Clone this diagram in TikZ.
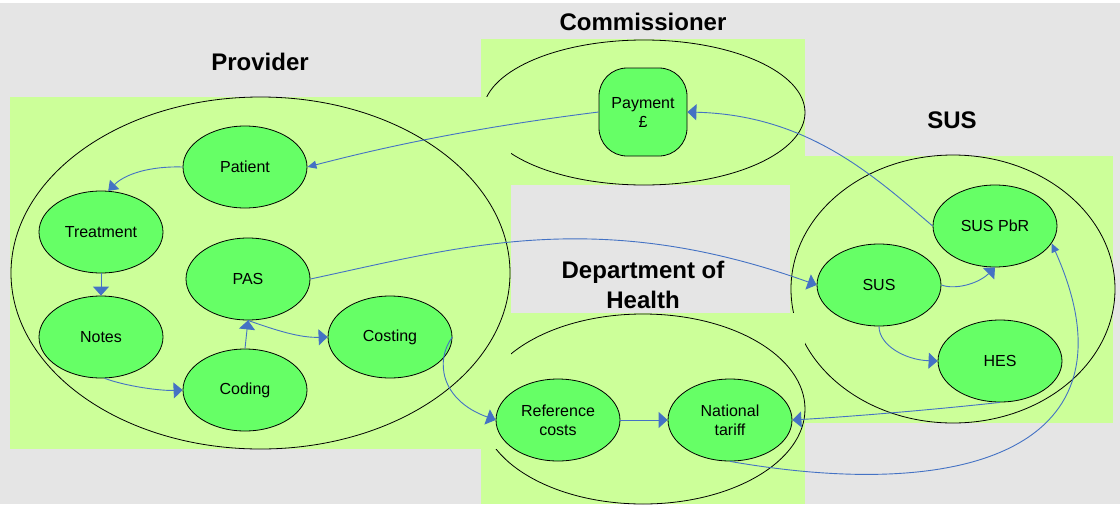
\documentclass[tikz,border=0pt]{standalone}
\usepackage{fontspec}
\setmainfont{Liberation Sans}
\usetikzlibrary{shapes.geometric,arrows.meta}
\definecolor{bgGrey}{HTML}{E5E5E5}
\definecolor{paleGreen}{HTML}{CCFF99}
\definecolor{nodeGreen}{HTML}{66FF66}
\definecolor{arrowBlue}{RGB}{68,114,196}
\tikzset{
  region/.style={fill=paleGreen, draw=none},
  outer/.style={ellipse, draw=black, line width=0.8pt, fill=paleGreen, inner sep=0pt},
  item/.style={ellipse, draw=black, line width=0.8pt, fill=nodeGreen, inner sep=0pt,
    minimum width=124pt, minimum height=82pt, align=center, font=\fontsize{16}{19}\selectfont},
  grouptitle/.style={font=\bfseries\fontsize{24}{30}\selectfont, align=center},
  flow/.style={draw=arrowBlue, line width=0.9pt, -{Triangle[length=9pt,width=16pt]}},
  midflow/.style={draw=arrowBlue, line width=0.9pt, -{Triangle[length=9pt,width=13pt]}},
  thinflow/.style={draw=arrowBlue, line width=0.9pt, -{Triangle[length=9pt,width=8pt]}}
}
\begin{document}
\begin{tikzpicture}[x=1pt,y=1pt]
\useasboundingbox (0,0) rectangle (1120,-504);
\fill[white] (0,0) rectangle (1120,-504);
\fill[bgGrey] (0,-3) rectangle (1120,-504);

% SUS region
\fill[region] (790,-156) rectangle (1113,-423);
\node[outer, minimum width=324pt, minimum height=268pt] (susOuter) at (953,-289) {};
% Commissioner region
\fill[region] (481,-39) rectangle (805,-185);
\node[outer, minimum width=322pt, minimum height=145pt] (comOuter) at (644,-112.5) {};
% Department of Health region
\fill[region] (481,-313) rectangle (805,-504);
\node[outer, minimum width=324pt, minimum height=190pt] (dohOuter) at (643,-409) {};
% Provider region
\fill[region] (10,-97) rectangle (511,-449);
\node[outer, minimum width=499pt, minimum height=352pt] (provOuter) at (260.5,-273) {};

% titles
\node[grouptitle] (tProv) at (260,-62) {Provider};
\node[grouptitle] (tCom) at (643,-22) {Commissioner};
\node[grouptitle] (tSUS) at (952,-120) {SUS};
\node[grouptitle] (tDoH) at (643,-285) {Department of\\Health};

% provider nodes
\node[item] (patient) at (245,-167) {Patient};
\node[item] (treatment) at (101,-232) {Treatment};
\node[item] (pas) at (248,-279) {PAS};
\node[item] (notes) at (101,-337) {Notes};
\node[item] (coding) at (245,-390) {Coding};
\node[item] (costing) at (390,-337) {Costing};

% commissioner
\node[draw=black, line width=0.8pt, fill=nodeGreen, rounded corners=28pt,
  minimum width=88pt, minimum height=88pt, inner sep=0pt, align=center,
  font=\fontsize{16}{19}\selectfont] (payment) at (643,-112) {Payment\\£};

% SUS nodes
\node[item] (suspbr) at (995,-226) {SUS PbR};
\node[item] (sus) at (879,-285) {SUS};
\node[item] (hes) at (1000,-361) {HES};

% DoH nodes
\node[item] (refcosts) at (558,-420) {Reference\\costs};
\node[item] (tariff) at (730,-420) {National\\tariff};

% connectors
\draw[thinflow] (payment.west) .. controls (499,-124.5) and (407,-141) .. (patient.east);
\draw[midflow] (patient.west) .. controls (150,-166) and (125,-174) .. (treatment.80);
\draw[flow] (treatment.south) -- (notes.north);
\draw[flow] (notes.-85) .. controls (125,-386) and (160,-391) .. (coding.west);
\draw[flow] (coding.north) -- (pas.south);
\draw[flow] (pas.south) .. controls (275,-330) and (300,-338) .. (costing.west);
\draw[flow] (pas.east) .. controls (460,-247) and (597,-206) .. (sus.west);
\draw[flow] (sus.east) .. controls (955,-290) and (978,-284) .. (suspbr.south);
\draw[flow] (sus.south) .. controls (879,-345) and (905,-360) .. (hes.west);
\draw[flow] (suspbr.west) .. controls (873,-175) and (807,-115) .. (payment.east);
\draw[flow] (costing.east) .. controls (435,-360) and (440,-400) .. (refcosts.west);
\draw[flow] (refcosts.east) -- (tariff.west);
\draw[flow] (hes.south) .. controls (940,-409) and (860,-416) .. (tariff.east);
\draw[thinflow] (tariff.south) .. controls (980,-505) and (1140,-440) .. (suspbr.-17);
\end{tikzpicture}
\end{document}
